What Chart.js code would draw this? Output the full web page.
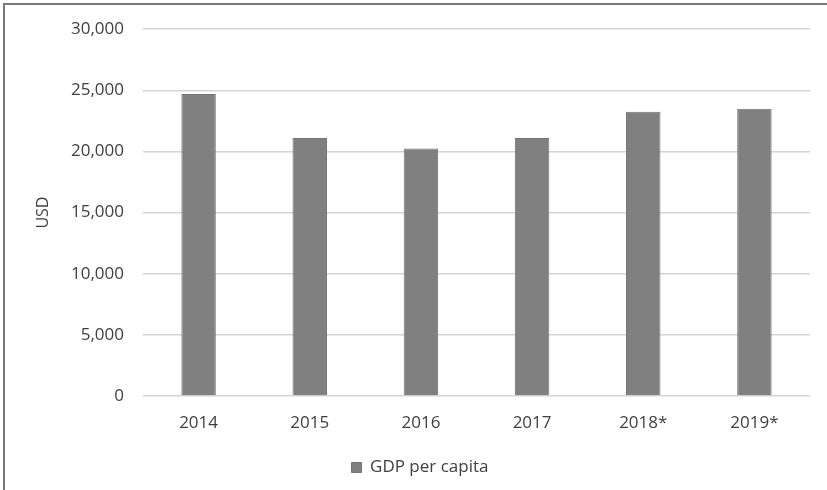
<!DOCTYPE html>
<html>
<head>
<meta charset="utf-8">
<script src="https://cdn.jsdelivr.net/npm/chart.js@4/dist/chart.umd.min.js"></script>
<style>
  html, body { margin: 0; padding: 0; background: #fff; }
  #wrap { width: 827px; height: 490px; position: relative; }
</style>
</head>
<body>
<div id="wrap"><canvas id="c" width="827" height="490"></canvas></div>
<script>
const categories = ["2014", "2015", "2016", "2017", "2018*", "2019*"];
const gdpPerCapita = [24700, 21100, 20250, 21100, 23250, 23500];
const seriesName = "GDP per capita";
const yTitle = "USD";
const yMin = 0, yMax = 30000, yStep = 5000;

const textColor = "#404040";
const fontFamily = "'Open Sans', 'Noto Sans', sans-serif";

const framePlugin = {
  id: "frame",
  afterDraw(chart) {
    const ctx = chart.ctx;
    ctx.save();
    ctx.strokeStyle = "#7a7a7a";
    ctx.lineWidth = 2;
    ctx.beginPath();
    ctx.moveTo(4, chart.height);
    ctx.lineTo(4, 4);
    ctx.lineTo(chart.width, 4);
    ctx.stroke();
    ctx.restore();
  }
};

new Chart(document.getElementById("c"), {
  type: "bar",
  data: {
    labels: categories,
    datasets: [{
      label: seriesName,
      data: gdpPerCapita,
      backgroundColor: "#808080",
      borderColor: "#747474",
      borderWidth: 1,
      barPercentage: 0.31,
      categoryPercentage: 1.0
    }]
  },
  options: {
    responsive: false,
    animation: false,
    devicePixelRatio: 1,
    layout: { padding: { left: 30, right: 17, top: 28, bottom: 4 } },
    plugins: {
      legend: {
        position: "bottom",
        labels: {
          boxWidth: 10,
          boxHeight: 10,
          padding: 10,
          color: textColor,
          font: { family: fontFamily, size: 17 }
        }
      },
      tooltip: { enabled: false }
    },
    scales: {
      x: {
        grid: { display: false, drawTicks: false },
        border: { display: false },
        ticks: {
          color: textColor,
          padding: 17,
          font: { family: fontFamily, size: 17 }
        },
        afterFit(scale) { scale.height = 53; }
      },
      y: {
        min: yMin,
        max: yMax,
        grid: { color: "#d4d4d4", lineWidth: 1.5, drawTicks: false },
        border: { display: false },
        ticks: {
          stepSize: yStep,
          color: textColor,
          padding: 19,
          font: { family: fontFamily, size: 17 },
          callback: (v) => Number(v).toLocaleString("en-US")
        },
        title: {
          display: true,
          text: yTitle,
          color: textColor,
          padding: { top: 4, bottom: 0 },
          font: { family: fontFamily, size: 16 }
        },
        afterFit(scale) { scale.width = 113; }
      }
    }
  },
  plugins: [framePlugin]
});
</script>
</body>
</html>
